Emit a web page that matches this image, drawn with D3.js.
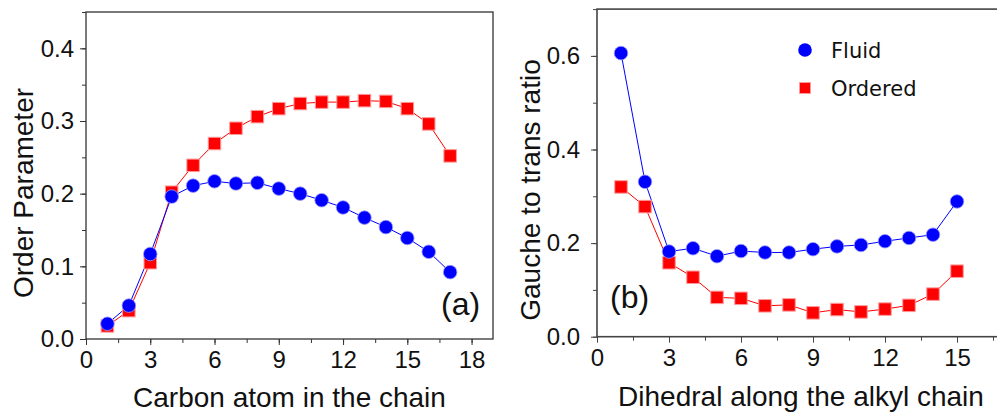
<!DOCTYPE html>
<html>
<head>
<meta charset="utf-8">
<script src="https://cdn.jsdelivr.net/npm/d3@7"></script>
<style>
html,body{margin:0;padding:0;background:#fff;}
svg{display:block;}
text{font-family:"Liberation Sans",Arial,sans-serif;fill:#111;}
</style>
</head>
<body>
<svg id="chart" width="997" height="414"></svg>
<script>
// Panel (a): order parameter per carbon atom
const carbonAtoms = [1,2,3,4,5,6,7,8,9,10,11,12,13,14,15,16,17];
const orderFluid   = [0.021,0.046,0.117,0.196,0.211,0.217,0.214,0.215,0.207,0.200,0.191,0.181,0.167,0.154,0.139,0.120,0.092];
const orderOrdered = [0.018,0.039,0.105,0.202,0.239,0.269,0.290,0.306,0.317,0.324,0.326,0.326,0.328,0.327,0.317,0.296,0.252];
// Panel (b): gauche to trans ratio per dihedral
const dihedrals = [1,2,3,4,5,6,7,8,9,10,11,12,13,14,15];
const gtFluid   = [0.606,0.331,0.182,0.189,0.172,0.183,0.180,0.180,0.187,0.193,0.196,0.204,0.211,0.218,0.289];
const gtOrdered = [0.320,0.278,0.158,0.127,0.084,0.082,0.066,0.068,0.051,0.058,0.053,0.059,0.067,0.091,0.140];
// ticks
const xTicksA = [0,3,6,9,12,15,18];
const yTicksA = [0.0,0.1,0.2,0.3,0.4];
const xTicksB = [0,3,6,9,12,15];
const yTicksB = [0.0,0.2,0.4,0.6];
const seriesNames = ["Fluid","Ordered"];

const BLUE = "#0000ff", RED = "#ff0000";
const svg = d3.select("#chart");

function panel(opts){
  const g = svg.append("g");
  const x = d3.scaleLinear().domain(opts.xDomain).range(opts.xRange);
  const y = d3.scaleLinear().domain(opts.yDomain).range(opts.yRange);
  const [x0,x1] = opts.xRange, [y0,y1] = opts.yRange;

  // frame
  g.append("rect").attr("x",x0).attr("y",y1).attr("width",x1-x0).attr("height",y0-y1)
    .attr("fill","none").attr("stroke",opts.frameColor).attr("stroke-width",opts.frameWidth);

  // minor ticks
  const xMinor = d3.range(opts.xDomain[0], opts.xDomain[1]+1e-9, opts.xMinorStep);
  const yMinor = d3.range(opts.yDomain[0], opts.yDomain[1]+1e-9, opts.yMinorStep);
  g.append("g").attr("transform",`translate(0,${y0})`)
    .call(d3.axisBottom(x).tickValues(xMinor).tickSize(4).tickFormat(""))
    .call(a=>a.select(".domain").remove())
    .call(a=>a.selectAll("line").attr("stroke",opts.frameColor));
  g.append("g").attr("transform",`translate(${x0},0)`)
    .call(d3.axisLeft(y).tickValues(yMinor).tickSize(4).tickFormat(""))
    .call(a=>a.select(".domain").remove())
    .call(a=>a.selectAll("line").attr("stroke",opts.frameColor));

  // major ticks
  g.append("g").attr("transform",`translate(0,${y0})`)
    .call(d3.axisBottom(x).tickValues(opts.xTicks).tickSize(6).tickPadding(6).tickFormat(d3.format("d")))
    .call(a=>a.select(".domain").remove())
    .call(a=>a.selectAll("line").attr("stroke",opts.frameColor))
    .call(a=>a.selectAll("text").attr("font-size",24).attr("font-family","Liberation Sans, Arial, sans-serif").attr("fill","#111"));
  g.append("g").attr("transform",`translate(${x0},0)`)
    .call(d3.axisLeft(y).tickValues(opts.yTicks).tickSize(6).tickPadding(opts.yPad).tickFormat(d3.format(".1f")))
    .call(a=>a.select(".domain").remove())
    .call(a=>a.selectAll("line").attr("stroke",opts.frameColor))
    .call(a=>a.selectAll("text").attr("font-size",24).attr("font-family","Liberation Sans, Arial, sans-serif").attr("fill","#111"));

  // axis titles
  g.append("text").attr("x",(x0+x1)/2).attr("y",opts.xTitleY).attr("text-anchor","middle")
    .attr("font-size",28).text(opts.xTitle);
  g.append("text").attr("transform",`translate(${opts.yTitleX},${opts.yTitleCY}) rotate(-90)`)
    .attr("text-anchor","middle").attr("font-size",28).text(opts.yTitle);

  // lines
  const line = d3.line().x(d=>x(d[0])).y(d=>y(d[1]));
  const plot = g.append("g");
  const fluid = opts.xs.map((v,i)=>[v,opts.fluid[i]]);
  const ord = opts.xs.map((v,i)=>[v,opts.ordered[i]]);
  plot.append("path").datum(ord).attr("d",line).attr("fill","none").attr("stroke",RED).attr("stroke-width",1);
  plot.append("path").datum(fluid).attr("d",line).attr("fill","none").attr("stroke",BLUE).attr("stroke-width",1);
  const s = 12.5;
  plot.selectAll("rect.sq").data(ord).enter().append("rect").attr("class","sq")
    .attr("x",d=>x(d[0])-s/2).attr("y",d=>y(d[1])-s/2).attr("width",s).attr("height",s)
    .attr("fill",RED).attr("stroke","#ff9a9a").attr("stroke-width",1);
  plot.selectAll("circle.ci").data(fluid).enter().append("circle").attr("class","ci")
    .attr("cx",d=>x(d[0])).attr("cy",d=>y(d[1])).attr("r",6.8)
    .attr("fill",BLUE).attr("stroke","#9a9aff").attr("stroke-width",0.8);

  // panel label
  g.append("text").attr("x",opts.labelX).attr("y",opts.labelY).attr("font-size",32).text(opts.label);
  return {g,x,y};
}

panel({
  id:"a", xDomain:[0,19], yDomain:[0,0.45], xRange:[86,493], yRange:[339,12],
  xMinorStep:1.5, yMinorStep:0.05, xTicks:xTicksA, yTicks:yTicksA, yPad:6,
  frameColor:"#333", frameWidth:1.3,
  xTitle:"Carbon atom in the chain", xTitleY:407,
  yTitle:"Order Parameter", yTitleX:33, yTitleCY:193,
  xs:carbonAtoms, fluid:orderFluid, ordered:orderOrdered,
  label:"(a)", labelX:441, labelY:315
});

panel({
  id:"b", xDomain:[0,17], yDomain:[0,0.7], xRange:[597,1005], yRange:[336.7,9.1],
  xMinorStep:1.5, yMinorStep:0.1, xTicks:xTicksB, yTicks:yTicksB, yPad:11,
  frameColor:"#444", frameWidth:1.6,
  xTitle:"Dihedral along the alkyl chain", xTitleY:406,
  yTitle:"Gauche to trans ratio", yTitleX:540, yTitleCY:190,
  xs:dihedrals, fluid:gtFluid, ordered:gtOrdered,
  label:"(b)", labelX:610, labelY:308
});

// legend
const leg = svg.append("g").attr("transform","translate(805,50)");
leg.selectAll("g.item").data(seriesNames).enter().append("g").attr("class","item")
  .attr("transform",(d,i)=>`translate(0,${i*38})`)
  .each(function(d,i){
    const it = d3.select(this);
    if(i===0){
      it.append("circle").attr("r",6.8).attr("fill",BLUE);
    } else {
      it.append("rect").attr("x",-5.5).attr("y",-5.5).attr("width",11).attr("height",11).attr("fill",RED).attr("stroke","#ff9a9a").attr("stroke-width",1);
    }
    it.append("text").attr("x",26).attr("y",8).attr("font-size",21)
      .style("font-family","'DejaVu Sans', sans-serif").text(d);
  });
</script>
</body>
</html>
